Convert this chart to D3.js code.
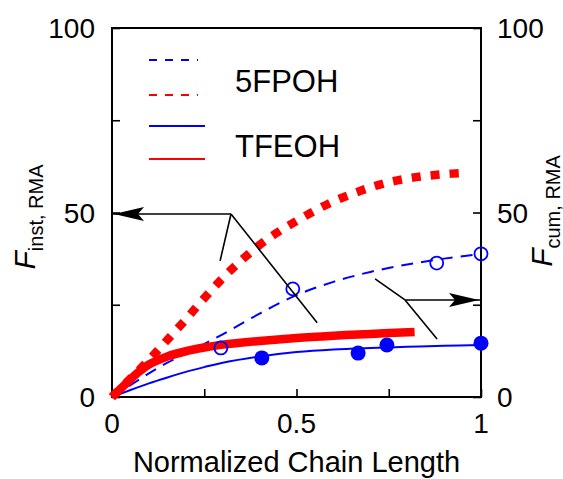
<!DOCTYPE html>
<html>
<head>
<meta charset="utf-8">
<script src="https://cdn.jsdelivr.net/npm/d3@7"></script>
<style>
  body { margin: 0; background: #fff; }
  svg { font-family: "Liberation Sans", Arial, sans-serif; }
</style>
</head>
<body>
<div id="chart"></div>
<script>
// chart values
var xTicks = [0, 0.25, 0.5, 0.75, 1];
var xTickLabels = ["0", "", "0.5", "", "1"];
var yTicks = [0, 25, 50, 75, 100];
var yTickLabels = ["0", "", "50", "", "100"];

// 5FPOH instantaneous (red dashed)
var fpohInstX = [0, 0.05, 0.1, 0.15, 0.2, 0.25, 0.3, 0.35, 0.4, 0.45, 0.5, 0.55, 0.6, 0.65, 0.7, 0.75, 0.8, 0.85, 0.9, 0.95];
var fpohInstY = [0, 5, 10, 15.5, 21, 26.8, 32.2, 37, 41.2, 44.7, 47.7, 50.5, 53, 55, 56.8, 58.2, 59.2, 59.9, 60.4, 60.7];
// 5FPOH cumulative (blue dashed) + open circles
var fpohCumX = [0, 0.05, 0.1, 0.15, 0.2, 0.3, 0.4, 0.5, 0.6, 0.7, 0.8, 0.9, 1.0];
var fpohCumY = [0, 3.2, 6.4, 9.3, 11.8, 17, 22.6, 27.6, 31.2, 33.9, 35.9, 37.5, 38.8];
var fpohPtsX = [0.295, 0.49, 0.88, 1.0];
var fpohPtsY = [13.3, 29.3, 36.3, 38.8];
// TFEOH instantaneous (red solid)
var tfeohInstX = [0, 0.025, 0.05, 0.075, 0.1, 0.15, 0.2, 0.25, 0.3, 0.4, 0.5, 0.6, 0.7, 0.82];
var tfeohInstY = [0, 2.4, 4.8, 7, 8.8, 11, 12.4, 13.4, 14.2, 15.2, 16, 16.6, 17.1, 17.6];
// TFEOH cumulative (blue solid) + filled circles
var tfeohCumX = [0, 0.05, 0.1, 0.15, 0.2, 0.25, 0.3, 0.4, 0.5, 0.6, 0.7, 0.8, 0.9, 1.0];
var tfeohCumY = [0, 1.9, 3.7, 5.3, 6.8, 8.1, 9.3, 11, 12.2, 12.9, 13.3, 13.6, 13.9, 14.1];
var tfeohPtsX = [0.406, 0.667, 0.745, 1.0];
var tfeohPtsY = [10.6, 11.9, 14.1, 14.6];

// annotation arrows (data coords): vertex, arrow end, two branch ends
var leftArrow = [[0.3225, 49.6], [0, 49.6], [0.293, 36.9], [0.556, 20.1]];
var rightArrow = [[0.794, 26.3], [1.0, 26.3], [0.713, 32], [0.881, 15.7]];

var legendNames = ["5FPOH", "TFEOH"];

// setting svg size and margins
var svgWidth = 563;
var svgHeight = 479;
var margin = { top: 28, right: 82, bottom: 82, left: 112 };
var width = svgWidth - margin.left - margin.right;
var height = svgHeight - margin.top - margin.bottom;

var svg = d3.select("#chart")
  .append("svg")
  .attr("width", svgWidth)
  .attr("height", svgHeight);

var chartGroup = svg.append("g")
  .attr("transform", `translate(${margin.left}, ${margin.top})`);

var x = d3.scaleLinear().domain([0, 1]).range([0, width]);
var y = d3.scaleLinear().domain([0, 100]).range([height, 0]);

function zip(xs, ys) { return xs.map((v, i) => [v, ys[i]]); }

var line = d3.line()
  .x(d => x(d[0]))
  .y(d => y(d[1]))
  .curve(d3.curveCatmullRom.alpha(0.5));

// axes with inward ticks
var bottomAxis = d3.axisBottom(x).tickValues(xTicks).tickSize(-8).tickFormat("");
var leftAxis = d3.axisLeft(y).tickValues(yTicks).tickSize(-8).tickFormat("");
var rightAxis = d3.axisRight(y).tickValues(yTicks).tickSize(-8).tickFormat("");

function styleAxis(g) {
  g.select(".domain").remove();
  g.selectAll("line").attr("stroke", "#000").attr("stroke-width", 1.6);
}
chartGroup.append("g").attr("transform", `translate(0, ${height})`).call(bottomAxis).call(styleAxis);
chartGroup.append("g").call(leftAxis).call(styleAxis);
chartGroup.append("g").attr("transform", `translate(${width}, 0)`).call(rightAxis).call(styleAxis);

// frame
chartGroup.append("rect")
  .attr("width", width)
  .attr("height", height)
  .attr("fill", "none")
  .attr("stroke", "#000")
  .attr("stroke-width", 2);

// tick labels
chartGroup.selectAll(".xlab")
  .data(xTicks)
  .enter().append("text")
  .attr("x", d => x(d))
  .attr("y", height + 36)
  .attr("text-anchor", "middle")
  .style("font-size", "28px")
  .text((d, i) => xTickLabels[i]);

chartGroup.selectAll(".ylab")
  .data(yTicks)
  .enter().append("text")
  .attr("x", -17)
  .attr("y", d => y(d) + 10)
  .attr("text-anchor", "end")
  .style("font-size", "28px")
  .text((d, i) => yTickLabels[i]);

chartGroup.selectAll(".y2lab")
  .data(yTicks)
  .enter().append("text")
  .attr("x", width + 16)
  .attr("y", d => y(d) + 10)
  .attr("text-anchor", "start")
  .style("font-size", "28px")
  .text((d, i) => yTickLabels[i]);

// axis titles
svg.append("text")
  .attr("x", margin.left + width / 2)
  .attr("y", 472)
  .attr("text-anchor", "middle")
  .style("font-size", "29px")
  .text("Normalized Chain Length");

var yl = svg.append("text")
  .attr("transform", "translate(35, 217) rotate(-90)")
  .attr("text-anchor", "middle");
yl.append("tspan").style("font-size", "30px").style("font-style", "italic").text("F");
yl.append("tspan").attr("dy", 8).style("font-size", "20px").text("inst, RMA");

var yr = svg.append("text")
  .attr("transform", "translate(552, 211) rotate(-90)")
  .attr("text-anchor", "middle");
yr.append("tspan").style("font-size", "30px").style("font-style", "italic").text("F");
yr.append("tspan").attr("dy", 8).style("font-size", "20px").text("cum, RMA");

// curves
chartGroup.append("path")
  .attr("d", line(zip(fpohCumX, fpohCumY)))
  .attr("fill", "none").attr("stroke", "#0000ff").attr("stroke-width", 2)
  .attr("stroke-dasharray", "12,8");

chartGroup.append("path")
  .attr("d", line(zip(tfeohCumX, tfeohCumY)))
  .attr("fill", "none").attr("stroke", "#0000ff").attr("stroke-width", 2);

chartGroup.append("path")
  .attr("d", line(zip(fpohInstX, fpohInstY)))
  .attr("fill", "none").attr("stroke", "#ff0000").attr("stroke-width", 8.5)
  .attr("stroke-dasharray", "9,10");

chartGroup.append("path")
  .attr("d", line(zip(tfeohInstX, tfeohInstY)))
  .attr("fill", "none").attr("stroke", "#ff0000").attr("stroke-width", 8.5);

// points
chartGroup.selectAll(".open")
  .data(zip(fpohPtsX, fpohPtsY))
  .enter().append("circle")
  .attr("cx", d => x(d[0])).attr("cy", d => y(d[1]))
  .attr("r", 6.5)
  .attr("fill", "none").attr("stroke", "#0000ff").attr("stroke-width", 1.8);

chartGroup.selectAll(".filled")
  .data(zip(tfeohPtsX, tfeohPtsY))
  .enter().append("circle")
  .attr("cx", d => x(d[0])).attr("cy", d => y(d[1]))
  .attr("r", 7.5)
  .attr("fill", "#0000ff");

// annotation arrows
function drawArrow(a, dir) {
  var v = a[0];
  [a[1], a[2], a[3]].forEach(function (p) {
    chartGroup.append("line")
      .attr("x1", x(v[0])).attr("y1", y(v[1]))
      .attr("x2", x(p[0])).attr("y2", y(p[1]))
      .attr("stroke", "#000").attr("stroke-width", 1.6);
  });
  chartGroup.append("path")
    .attr("d", "M0,0 L-30,-7 L-24,0 L-30,7 Z")
    .attr("transform", `translate(${x(a[1][0]) + (dir > 0 ? -2 : 2)}, ${y(a[1][1])}) scale(${dir}, 1)`)
    .attr("fill", "#000");
}
drawArrow(leftArrow, -1);
drawArrow(rightArrow, 1);

// legend
var legend = svg.append("g");
var legendRows = [
  { color: "#0000ff", dash: "8,8", y: 60 },
  { color: "#ff0000", dash: "8,8", y: 95 },
  { color: "#0000ff", dash: null, y: 126 },
  { color: "#ff0000", dash: null, y: 159 }
];
legendRows.forEach(function (r) {
  legend.append("line")
    .attr("x1", 149).attr("x2", r.dash ? 198 : 205)
    .attr("y1", r.y).attr("y2", r.y)
    .attr("stroke", r.color).attr("stroke-width", 2)
    .attr("stroke-dasharray", r.dash);
});
legend.selectAll(".legtext")
  .data(legendNames)
  .enter().append("text")
  .attr("x", 235)
  .attr("y", (d, i) => i === 0 ? 92 : 157)
  .style("font-size", "31px")
  .text(d => d);
</script>
</body>
</html>
